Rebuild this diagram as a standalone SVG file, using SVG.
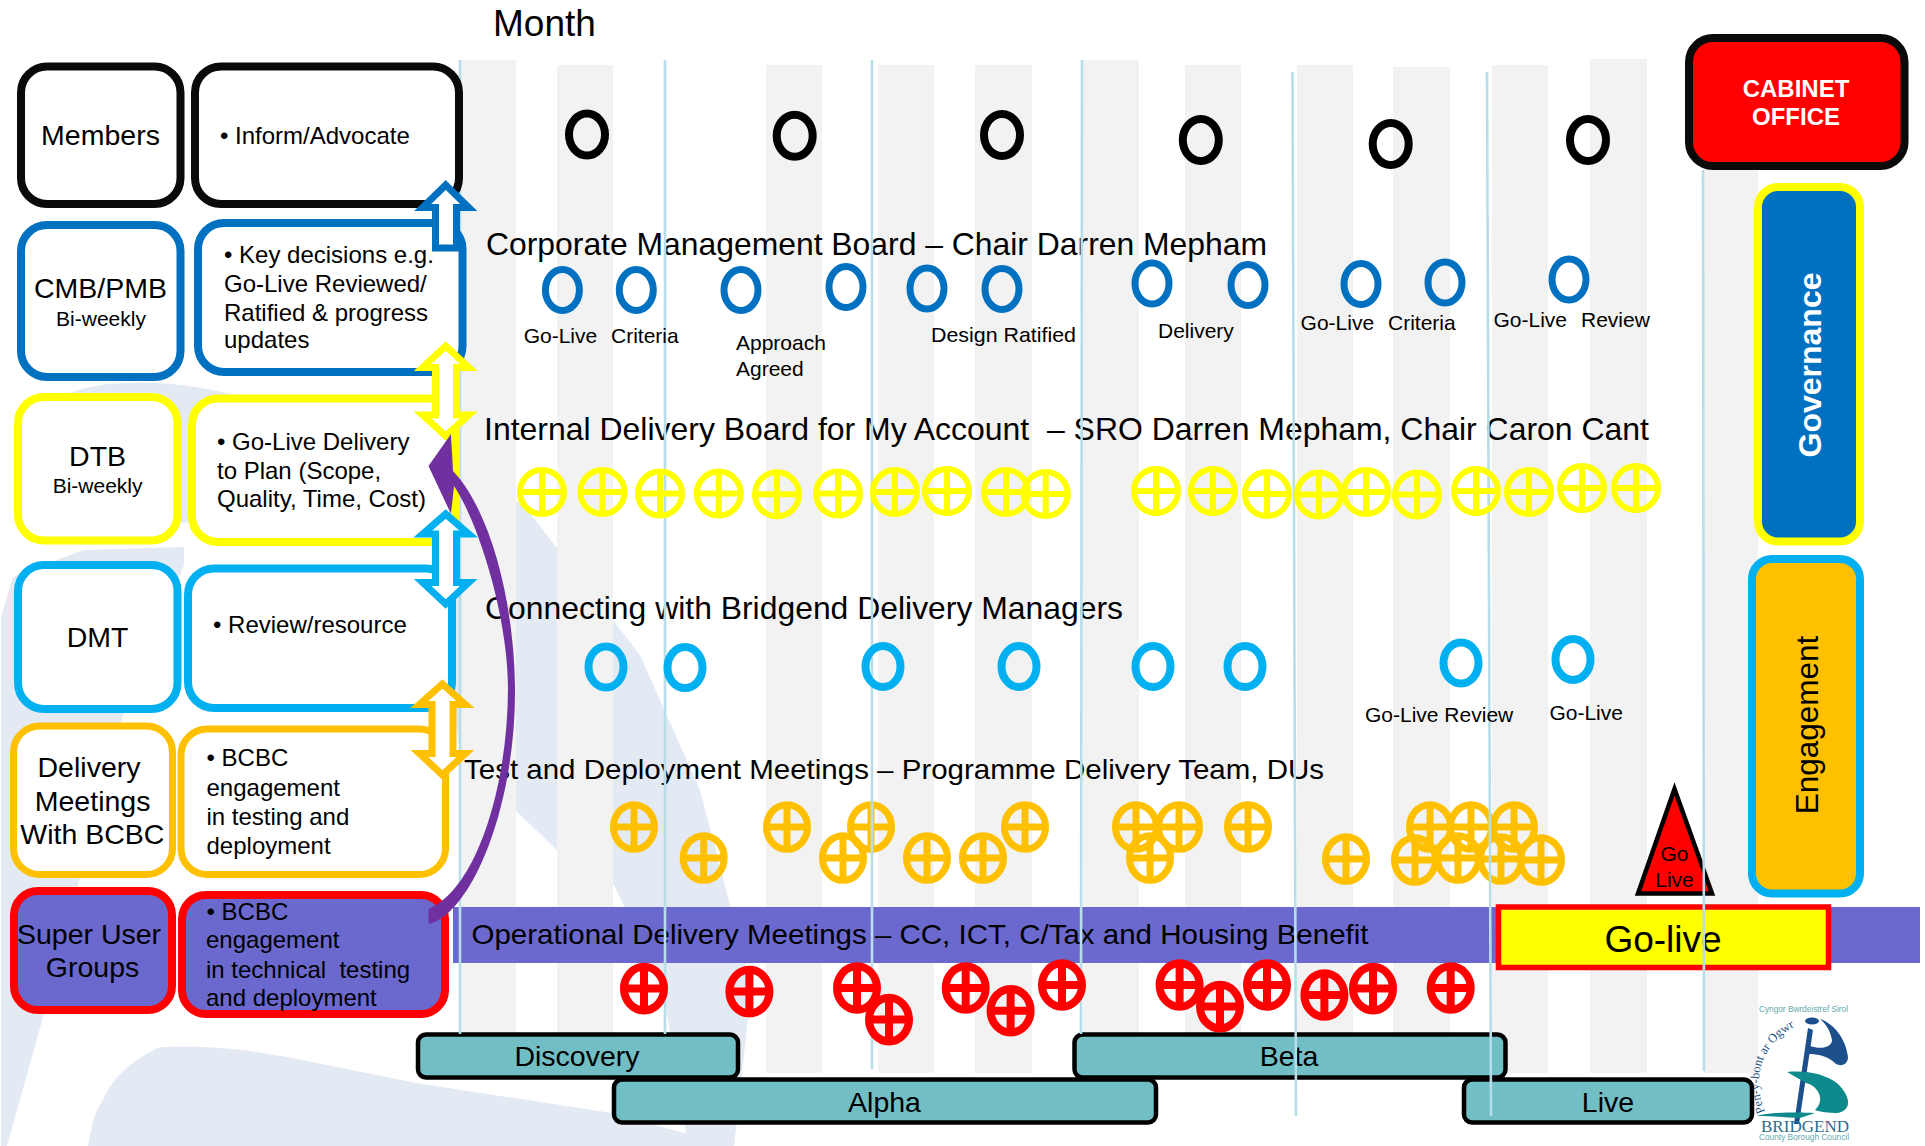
<svg xmlns="http://www.w3.org/2000/svg" width="1925" height="1146" viewBox="0 0 1925 1146">
<style>
text{font-family:"Liberation Sans",Arial,sans-serif;fill:#000;white-space:pre}
.t33{font-size:32px}.t29{font-size:28.500px}.t24{font-size:24px}.t21{font-size:21px}
.m{text-anchor:middle}
.box{stroke-width:8}
.stripe{fill:#f2f2f2}
.vl{stroke:#b7dee8;stroke-width:2.600;fill:none}
.bar{fill:#72bec5;stroke:#000;stroke-width:4.500}
.arr{fill:#fff;stroke-width:7;stroke-linejoin:miter}
.pale{fill:#e3eaf4}
.ring{fill:none}
</style>
<defs>
<ellipse id="rk" rx="18" ry="21" class="ring" stroke="#000" stroke-width="8"/>
<ellipse id="rb" rx="17" ry="20.500" class="ring" stroke="#0070c0" stroke-width="7"/>
<ellipse id="rs" rx="17.500" ry="20.500" class="ring" stroke="#00b0f0" stroke-width="8"/>
<g id="xy" fill="none" stroke="#ffff00" stroke-width="6"><ellipse rx="22" ry="22"/><path d="M-22,0H22M0,-22V22"/></g>
<g id="xo" fill="none" stroke="#ffc000" stroke-width="7"><ellipse rx="20.500" ry="22.300"/><path d="M-20,0H20M0,-22V22"/></g>
<g id="xr" fill="none" stroke="#ff0000" stroke-width="8"><ellipse rx="20" ry="21.800"/><path d="M-20,0H20M0,-22V22"/></g>
</defs>

<g id="watermark">
<path class="pale" d="M30,430C40,400 80,383 130,383C230,378 350,430 454,485L522,503L640,655L700,790L750,982L750,1000L734,1146L688,1146L663,989L614,885L557,850L515,810L460,751L452,700L452,560L440,530L100,520Z"/>
<path class="pale" d="M1,617L13,577L83,550L184,547L184,565L123,716L80,877L43,1017L7,1146L1,1146Z"/>
<path class="pale" d="M88,1146C92,1125 95,1110 103,1100C112,1080 125,1065 157,1048C175,1045 230,1046 287,1057L416,1083L612,1113L730,1146Z"/>
</g>

<g id="stripes">
<rect class="stripe" x="461" y="60" width="55" height="1013"/>
<rect class="stripe" x="557" y="65" width="56" height="1008"/>
<rect class="stripe" x="766" y="65" width="56" height="1008"/>
<rect class="stripe" x="878" y="65" width="56" height="1008"/>
<rect class="stripe" x="975" y="65" width="57" height="1008"/>
<rect class="stripe" x="1083" y="60" width="56" height="1013"/>
<rect class="stripe" x="1185" y="65" width="56" height="1008"/>
<rect class="stripe" x="1297" y="65" width="56" height="1008"/>
<rect class="stripe" x="1393" y="67" width="57" height="1006"/>
<rect class="stripe" x="1492" y="65" width="56" height="1008"/>
<rect class="stripe" x="1590" y="59" width="57" height="1014"/>
<rect class="stripe" x="1704" y="60" width="54" height="1013"/>
</g>

<g id="operational-band">
<rect x="453" y="907" width="1467" height="56" fill="#6b69cd"/>
<text class="t29" x="471.500" y="944" textLength="897" lengthAdjust="spacingAndGlyphs">Operational Delivery Meetings – CC, ICT, C/Tax and Housing Benefit</text>
</g>

<g id="titles">
<text x="493" y="36" font-size="37">Month</text>
<text class="t33" x="486" y="255" textLength="781" lengthAdjust="spacingAndGlyphs">Corporate Management Board – Chair Darren Mepham</text>
<text class="t33" x="484" y="440" textLength="1165" lengthAdjust="spacingAndGlyphs">Internal Delivery Board for My Account  – SRO Darren Mepham, Chair Caron Cant</text>
<text class="t33" x="485" y="619" textLength="638" lengthAdjust="spacingAndGlyphs">Connecting with Bridgend Delivery Managers</text>
<text class="t29" x="464" y="779" textLength="860" lengthAdjust="spacingAndGlyphs">Test and Deployment Meetings – Programme Delivery Team, DUs</text>
</g>

<g id="go-live-triangle">
<path d="M1674.500,789L1638,893.500H1712Z" fill="#ff0000" stroke="#000" stroke-width="4.500" stroke-linejoin="miter"/>
<text class="t21 m" x="1674.500" y="861">Go</text>
<text class="t21 m" x="1674.500" y="887">Live</text>
</g>

<g id="go-live-box">
<rect x="1498.500" y="907" width="330" height="60.500" fill="#ffff00" stroke="#ff0000" stroke-width="5.500"/>
<text class="m" x="1663" y="952" font-size="37">Go-live</text>
</g>

<g id="phase-discovery"><rect class="bar" x="418" y="1034.500" width="320" height="43" rx="8"/><text class="t29 m" x="577" y="1066">Discovery</text></g>
<g id="phase-beta"><rect class="bar" x="1074.500" y="1034.500" width="431" height="43" rx="8"/><text class="t29 m" x="1289" y="1066">Beta</text></g>
<g id="phase-alpha"><rect class="bar" x="614" y="1079.500" width="542" height="43" rx="8"/><text class="t29 m" x="884.500" y="1112">Alpha</text></g>
<g id="phase-live"><rect class="bar" x="1464" y="1079.500" width="288" height="43" rx="8"/><text class="t29 m" x="1608" y="1112">Live</text></g>

<g id="row-delivery-meetings">
<use href="#xo" x="634" y="827"/><use href="#xo" x="703.700" y="858"/><use href="#xo" x="787" y="827"/><use href="#xo" x="843" y="858"/><use href="#xo" x="871" y="827"/><use href="#xo" x="927" y="858"/><use href="#xo" x="983" y="858"/><use href="#xo" x="1025" y="827"/><use href="#xo" x="1136" y="827"/><use href="#xo" x="1179" y="827"/><use href="#xo" x="1150" y="858"/><use href="#xo" x="1248" y="827"/><use href="#xo" x="1346" y="859"/><use href="#xo" x="1430" y="827"/><use href="#xo" x="1471" y="827"/><use href="#xo" x="1514" y="827"/><use href="#xo" x="1415" y="860"/><use href="#xo" x="1458" y="858"/><use href="#xo" x="1501" y="859"/><use href="#xo" x="1541" y="860"/>
</g>

<g id="month-lines">
<path class="vl" d="M460,60V1034"/>
<path class="vl" d="M665,60V1034"/>
<path class="vl" d="M872,60V1069"/>
<path class="vl" d="M1082,60L1081,1034"/>
<path class="vl" d="M1292.500,72L1296,1116"/>
<path class="vl" d="M1487,72L1491,1116"/>
<path class="vl" d="M1703,170L1704,1071"/>
</g>

<g id="row-members">
<use href="#rk" x="587" y="134.600"/><use href="#rk" x="794.700" y="135.700"/><use href="#rk" x="1002" y="135"/><use href="#rk" x="1200.800" y="140"/><use href="#rk" x="1390.700" y="144"/><use href="#rk" x="1588" y="140"/>
</g>

<g id="row-cmb">
<use href="#rb" x="562.400" y="290"/><use href="#rb" x="636.300" y="290"/><use href="#rb" x="741" y="290"/><use href="#rb" x="846" y="287"/><use href="#rb" x="927" y="288.600"/><use href="#rb" x="1002" y="289"/><use href="#rb" x="1152" y="283.600"/><use href="#rb" x="1248" y="285"/><use href="#rb" x="1361" y="284"/><use href="#rb" x="1445" y="282.500"/><use href="#rb" x="1569" y="279.600"/>
<text class="t21" x="523.700" y="343">Go-Live</text>
<text class="t21" x="611" y="343">Criteria</text>
<text class="t21" x="736" y="350">Approach</text>
<text class="t21" x="736" y="375.700">Agreed</text>
<text class="t21" x="931" y="342" textLength="145" lengthAdjust="spacingAndGlyphs">Design Ratified</text>
<text class="t21" x="1158" y="337.500">Delivery</text>
<text class="t21" x="1300.600" y="330">Go-Live</text>
<text class="t21" x="1388" y="330">Criteria</text>
<text class="t21" x="1493.500" y="327">Go-Live</text>
<text class="t21" x="1581" y="327">Review</text>
</g>

<g id="row-dtb">
<use href="#xy" x="542" y="492"/><use href="#xy" x="602.400" y="492"/><use href="#xy" x="660" y="493.600"/><use href="#xy" x="718.800" y="493.600"/><use href="#xy" x="777" y="494.300"/><use href="#xy" x="838" y="493.600"/><use href="#xy" x="895" y="492"/><use href="#xy" x="947" y="491"/><use href="#xy" x="1006" y="492"/><use href="#xy" x="1045.700" y="494"/><use href="#xy" x="1156" y="491"/><use href="#xy" x="1213" y="491"/><use href="#xy" x="1267" y="494"/><use href="#xy" x="1319" y="494.600"/><use href="#xy" x="1366" y="492"/><use href="#xy" x="1417" y="494.600"/><use href="#xy" x="1476" y="491"/><use href="#xy" x="1529" y="492"/><use href="#xy" x="1582" y="488"/><use href="#xy" x="1636" y="488"/>
</g>

<g id="row-dmt">
<use href="#rs" x="606" y="667"/><use href="#rs" x="685" y="667.600"/><use href="#rs" x="883" y="666.500"/><use href="#rs" x="1019" y="666.500"/><use href="#rs" x="1153" y="666.500"/><use href="#rs" x="1245" y="666.500"/><use href="#rs" x="1461" y="663"/><use href="#rs" x="1573" y="659.400"/>
<text class="t21" x="1365" y="721.500">Go-Live Review</text>
<text class="t21" x="1549.400" y="720">Go-Live</text>
</g>

<g id="row-super-users">
<use href="#xr" x="644" y="988.600"/><use href="#xr" x="749.400" y="991.600"/><use href="#xr" x="857" y="988"/><use href="#xr" x="889" y="1019.600"/><use href="#xr" x="965.700" y="988"/><use href="#xr" x="1010.600" y="1010.700"/><use href="#xr" x="1062" y="985"/><use href="#xr" x="1179.600" y="985"/><use href="#xr" x="1220" y="1006.600"/><use href="#xr" x="1267" y="985"/><use href="#xr" x="1324.400" y="995"/><use href="#xr" x="1373" y="988.600"/><use href="#xr" x="1450.700" y="988"/>
</g>

<g id="node-members"><rect class="box" x="21" y="66.500" width="159.500" height="137.500" rx="26" fill="#fff" stroke="#0a0a0a"/><text class="t29 m" x="100.500" y="145">Members</text></g>
<g id="node-members-role"><rect class="box" x="195" y="66.500" width="264" height="137.500" rx="26" fill="#fff" stroke="#0a0a0a"/><text class="t24" x="220" y="144">• Inform/Advocate</text></g>

<g id="node-cmb"><rect class="box" x="21" y="225" width="159.500" height="152" rx="26" fill="#fff" stroke="#0070c0"/><text class="t29 m" x="100.500" y="298">CMB/PMB</text><text class="t21 m" x="101" y="326">Bi-weekly</text></g>
<g id="node-cmb-role"><rect class="box" x="198" y="223" width="264.500" height="149" rx="26" fill="#fff" stroke="#0070c0"/>
<text class="t24" x="224" y="262.500">• Key decisions e.g.</text><text class="t24" x="224" y="292">Go-Live Reviewed/</text><text class="t24" x="224" y="320.700">Ratified &amp; progress</text><text class="t24" x="224" y="348">updates</text></g>

<g id="node-dtb"><rect class="box" x="18" y="397" width="159.500" height="143.500" rx="26" fill="#fff" stroke="#ffff00"/><text class="t29 m" x="97.600" y="466">DTB</text><text class="t21 m" x="97.600" y="493">Bi-weekly</text></g>
<g id="node-dtb-role"><rect class="box" x="192" y="398.500" width="264" height="143.500" rx="26" fill="#fff" stroke="#ffff00"/>
<text class="t24" x="217" y="450">• Go-Live Delivery</text><text class="t24" x="217" y="478.600">to Plan (Scope,</text><text class="t24" x="217" y="507">Quality, Time, Cost)</text></g>

<g id="node-dmt"><rect class="box" x="18" y="565" width="159.500" height="144" rx="26" fill="#fff" stroke="#00b0f0"/><text class="t29 m" x="97.600" y="647">DMT</text></g>
<g id="node-dmt-role"><rect class="box" x="188" y="568.500" width="264" height="139.500" rx="26" fill="#fff" stroke="#00b0f0"/><text class="t24" x="213" y="633">• Review/resource</text></g>

<g id="node-delivery"><rect x="13.500" y="726" width="159" height="148.500" rx="26" fill="#fff" stroke="#ffc000" stroke-width="7"/>
<text class="t29 m" x="89" y="777">Delivery</text><text class="t29 m" x="92.600" y="810.500">Meetings</text><text class="t29 m" x="92.400" y="844">With BCBC</text></g>
<g id="node-delivery-role"><rect x="181" y="729" width="264.500" height="145.500" rx="26" fill="#fff" stroke="#ffc000" stroke-width="7"/>
<text class="t24" x="206.500" y="766">• BCBC</text><text class="t24" x="206.500" y="795.500">engagement</text><text class="t24" x="206.500" y="825">in testing and</text><text class="t24" x="206.500" y="854">deployment</text></g>

<g id="node-super"><rect class="box" x="14" y="891" width="158" height="119" rx="24" fill="#6b69cd" stroke="#ff0000"/>
<text class="t29 m" x="89" y="944">Super User</text><text class="t29 m" x="92.600" y="976.700">Groups</text></g>
<g id="node-super-role"><rect class="box" x="182" y="895" width="263" height="119" rx="24" fill="#6b69cd" stroke="#ff0000"/>
<text class="t24" x="206.500" y="920">• BCBC</text><text class="t24" x="206" y="948">engagement</text><text class="t24" x="206" y="977.500">in technical  testing</text><text class="t24" x="206" y="1006">and deployment</text></g>

<g id="node-cabinet"><rect class="box" x="1689" y="38" width="215.500" height="128" rx="24" fill="#ff0000" stroke="#0a0a0a"/>
<text class="m" x="1796" y="97" font-size="24" font-weight="bold" style="fill:#fff">CABINET</text><text class="m" x="1796" y="125" font-size="24" font-weight="bold" style="fill:#fff">OFFICE</text></g>

<g id="node-governance"><rect class="box" x="1758" y="187" width="102" height="354.500" rx="20" fill="#0070c0" stroke="#ffff00"/>
<text class="m" transform="translate(1821,365) rotate(-90)" font-size="32" font-weight="bold" style="fill:#fff">Governance</text></g>
<g id="node-engagement"><rect class="box" x="1752" y="559" width="108" height="334.500" rx="20" fill="#ffc000" stroke="#00b0f0"/>
<text class="m" transform="translate(1818,725) rotate(-90)" font-size="31.500">Engagement</text></g>

<g id="connectors">
<path class="arr" stroke="#0070c0" d="M445.700,185L468.700,207.500H456.500V248H435.500V207.500H422.700Z"/>
<path class="arr" stroke="#ffff00" d="M445.700,346L468.700,367.500H456.500V415H468.700L445.700,436L422.700,415H435.500V367.500H422.700Z"/>
<path class="arr" stroke="#00b0f0" d="M445.700,514L468.700,534H456.500V582.500H468.700L445.700,604L422.700,582.500H435.500V534H422.700Z"/>
<path class="arr" stroke="#ffc000" d="M442.400,684L465.400,704.500H453V753.500H465.400L442.400,775L419.400,753.500H432V704.500H419.400Z"/>
<path id="purple-arrow" fill="#7030a0" d="M428.500,924C470,915 516,810 515,687C514,600 490,510 453,471L451,434L428.500,466L451,514L454,486C480,525 508,620 508,687C508,790 475,890 428.500,909Z"/>
</g>

<g id="logo">
<text x="1759" y="1012" font-size="9.800" style="fill:#5fa9ab" textLength="89" lengthAdjust="spacingAndGlyphs">Cyngor Bwrdeistref Sirol</text>
<path id="logoArc" d="M1765,1112C1750,1075 1762,1036 1812,1019" fill="none"/>
<text font-size="12.500" style="font-family:'Liberation Serif',serif;fill:#1c4f82"><textPath href="#logoArc">Pen-y-bont ar Ogwr</textPath></text>
<ellipse cx="1812" cy="1021" rx="7" ry="3.500" fill="#1c4f8c"/>
<path d="M1808,1028L1813,1030L1799,1124L1794,1124Z" fill="#1c4f8c"/>
<path d="M1820,1019C1835,1024 1846,1040 1848,1057C1848,1064 1842,1067 1836,1064C1828,1056 1818,1054 1808,1054L1810,1046C1822,1050 1832,1047 1832,1040C1830,1030 1826,1024 1820,1019Z" fill="#1c4f8c"/>
<path d="M1787,1072C1806,1070 1826,1074 1838,1084C1851,1097 1852,1110 1838,1113C1828,1113 1820,1112 1815,1110C1826,1100 1818,1086 1806,1083Z" fill="#0f8a8c"/>
<path d="M1757,1116C1770,1112 1800,1112 1815,1113L1800,1118C1785,1117 1770,1116 1757,1116Z" fill="#0f8a8c"/>
<text x="1761" y="1132" font-size="16.500" style="font-family:'Liberation Serif',serif;fill:#2d6d8e" textLength="88" lengthAdjust="spacingAndGlyphs">BRIDGEND</text>
<text x="1759" y="1140" font-size="9.800" style="fill:#5fa9ab" textLength="90" lengthAdjust="spacingAndGlyphs">County Borough Council</text>
</g>
</svg>
